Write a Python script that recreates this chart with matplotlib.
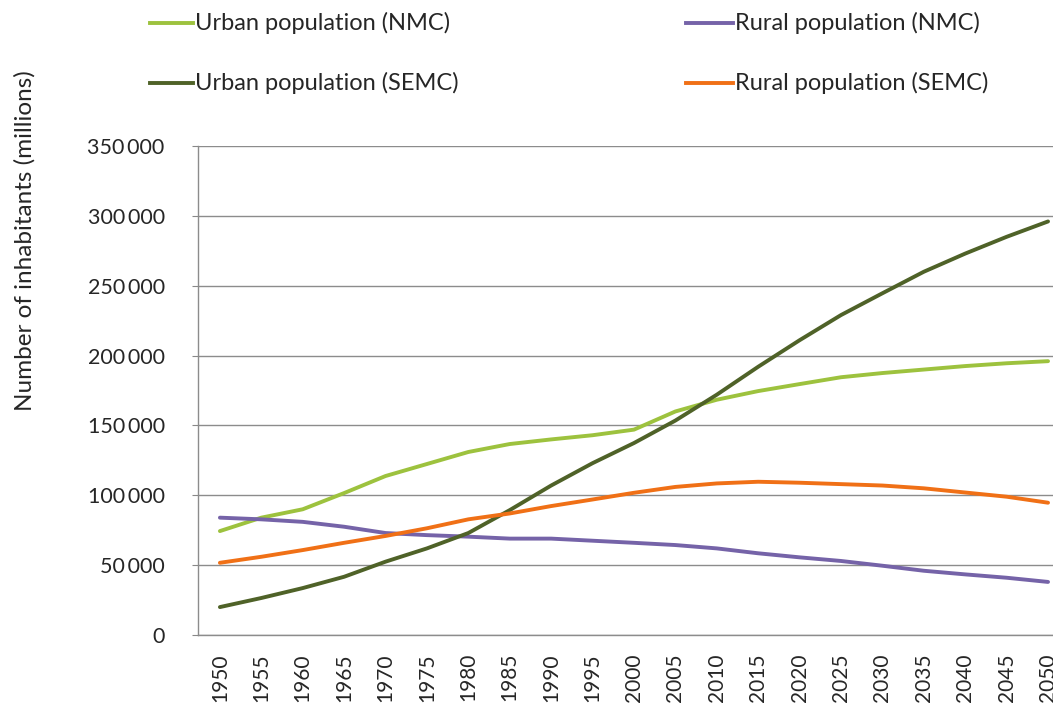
import matplotlib
matplotlib.use("Agg")
import matplotlib.pyplot as plt
from matplotlib.lines import Line2D
from matplotlib.ticker import FuncFormatter

years = list(range(1950, 2051, 5))
urban_nmc = [74.4, 84, 90, 101.6, 113.8, 122.4, 131, 136.7, 140, 143, 147, 160, 168.4, 174.6, 179.6, 184.5, 187.5, 190, 192.5, 194.5, 196]
urban_semc = [20, 26.5, 33.6, 41.7, 52.5, 62, 73, 89.4, 107, 123, 137.4, 153.5, 172, 192, 211, 229, 244.6, 260, 273, 285, 296]
rural_nmc = [84, 82.8, 81, 77.5, 73, 71.5, 70.4, 69, 69, 67.5, 66, 64.4, 62, 58.5, 55.6, 53, 49.6, 46, 43.4, 41, 38]
rural_semc = [51.7, 56, 60.8, 66, 70.9, 76.4, 82.8, 87, 92.3, 97, 101.8, 106, 108.5, 109.7, 109, 108, 107, 105, 102, 99, 94.7]

series_names = ["Urban population (NMC)", "Rural population (NMC)",
                "Urban population (SEMC)", "Rural population (SEMC)"]
series_values = [urban_nmc, rural_nmc, urban_semc, rural_semc]
colors = ["#9DC23E", "#7563A8", "#4F6228", "#F07016"]

yticks = [0, 50000, 100000, 150000, 200000, 250000, 300000, 350000]
ylabel = "Number of inhabitants (millions)"

FONT = ["Lato", "DejaVu Sans"]
plt.rcParams['font.family'] = FONT
TXT = "#262626"

fig = plt.figure(figsize=(10.53, 7.07), dpi=100)
ax = fig.add_axes([0.188, 0.1018, 0.812, 0.6917])

for vals, c in zip(series_values, colors):
    ax.plot(years, [v * 1000 for v in vals], color=c, lw=2.8, solid_capstyle='round', zorder=3)

ax.set_ylim(0, 350000)
ax.set_xlim(1947.35, 2050.6)
ax.set_yticks(yticks)
ax.yaxis.set_major_formatter(FuncFormatter(lambda v, p: f"{int(v):,}".replace(",", "\u2009")))
ax.set_xticks(years)
ax.set_xticklabels([str(y) for y in years], rotation=90)
ax.tick_params(axis='y', length=4, color="#888888", labelsize=15.5, labelcolor=TXT, pad=20)
ax.tick_params(axis='x', length=0, labelsize=15, labelcolor=TXT, pad=13)
ax.grid(axis='y', color="#8c8c8c", lw=1.0, zorder=1)
for s in ['top', 'right']:
    ax.spines[s].set_visible(False)
for s in ['left', 'bottom']:
    ax.spines[s].set_color("#8c8c8c")
    ax.spines[s].set_linewidth(1.0)

fig.text(0.024, 0.66, ylabel, rotation=90, ha='center', va='center', fontsize=17.5, color=TXT)

# legend (manual, two columns)
leg_lines = [(0.1425, 0.1833), (0.651, 0.696), (0.1425, 0.1833), (0.651, 0.696)]
leg_y = [0.967, 0.967, 0.883, 0.883]
for (x0, x1), y, name, c in zip(leg_lines, leg_y, series_names, colors):
    fig.add_artist(Line2D([x0, x1], [y, y], color=c, lw=2.8, transform=fig.transFigure))
    fig.text(x1 + 0.002, y, name, va='center', ha='left', fontsize=17, color=TXT)

fig.savefig("out.png", dpi=100, facecolor='white')
